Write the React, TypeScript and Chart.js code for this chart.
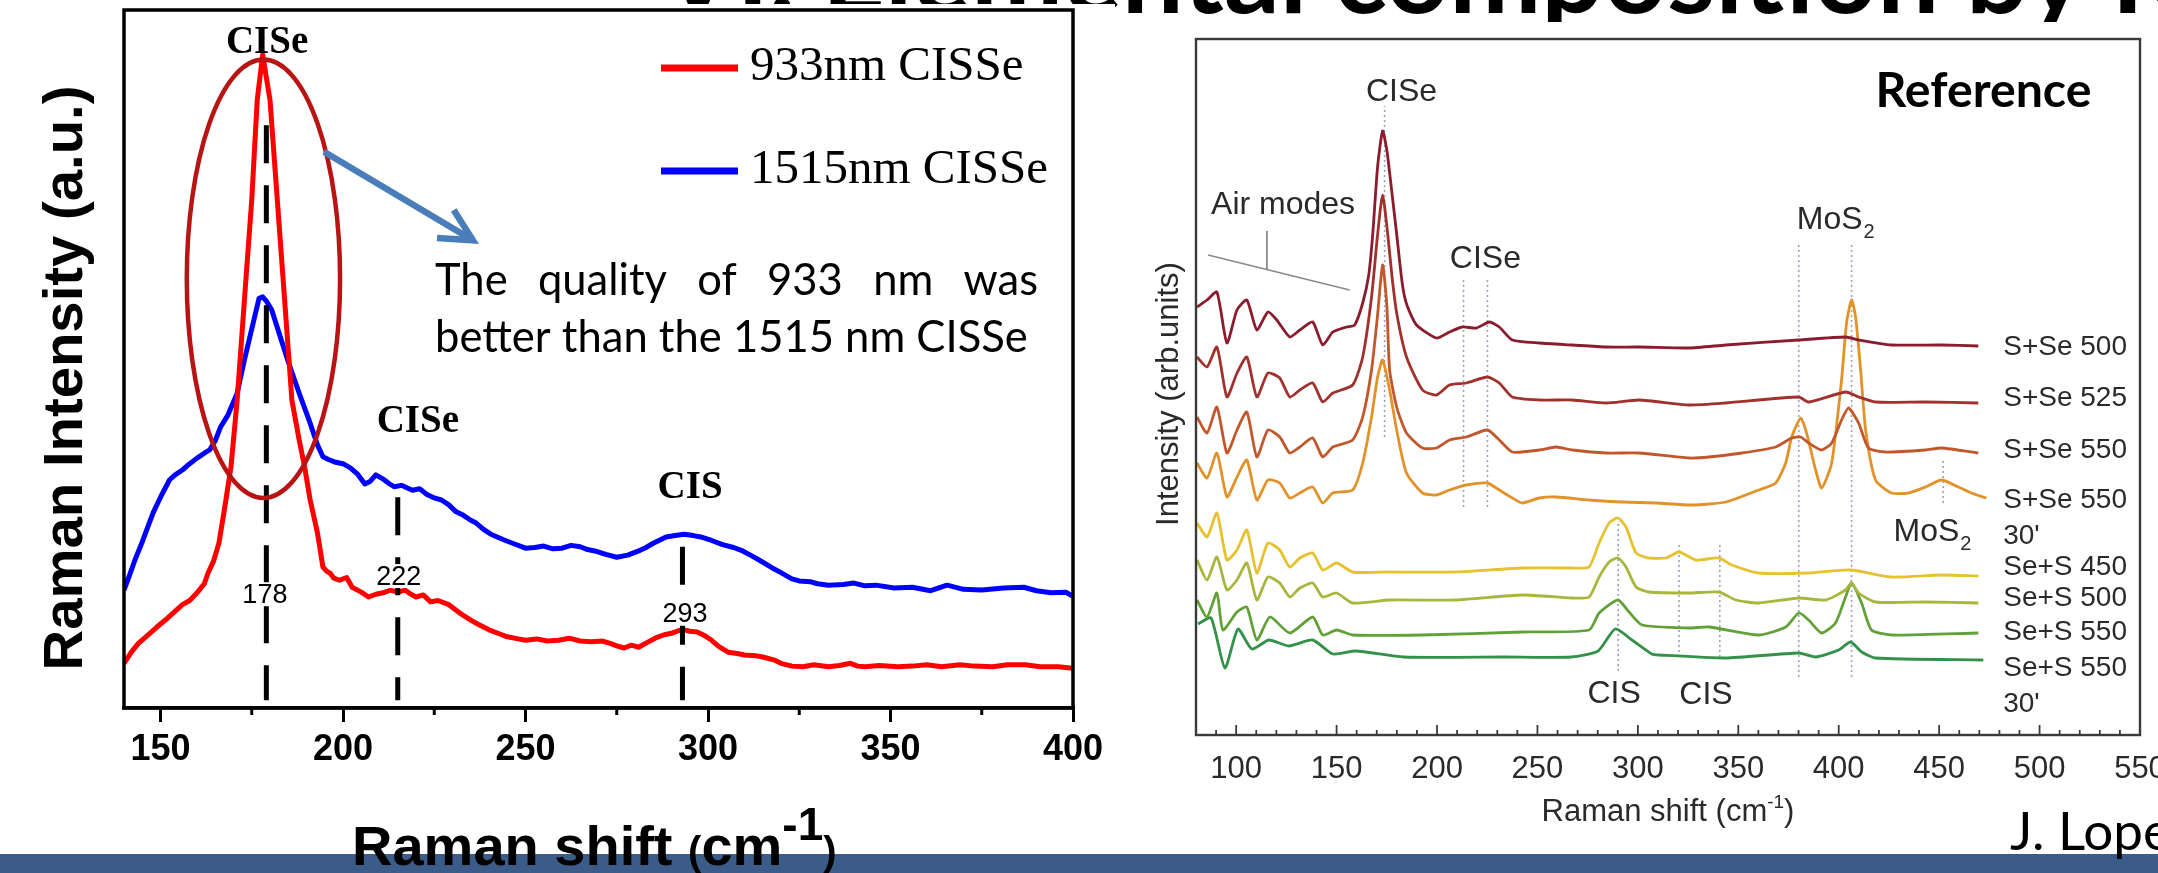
import React, { useEffect, useRef } from 'react';
import { Chart, registerables } from 'chart.js';

Chart.register(...registerables);

const ARIAL = "'Liberation Sans', Arial, sans-serif";
const TIMES = "'Liberation Serif', 'Times New Roman', serif";
const CALIBRI = "Lato, 'Open Sans', sans-serif";

const slideTitle = 'VI. Elemental composition by Raman';
const citation = 'J. Lopez-Garcia et al.';

// ---------------- Left chart (measured samples) ----------------
const leftXTicks = [150, 200, 250, 300, 350, 400];
const leftMinorTicks = [175, 225, 275, 325, 375];
const leftSeriesNames = ['933nm CISSe', '1515nm CISSe'];
const leftSeriesColors = ['#ff0000', '#0000ff'];

const red933: [number, number][] = [
  [140, 6.4], [142, 8.0], [144, 9.3], [146, 10.2], [149, 11.6], [152, 12.9], [156, 14.8], [158, 15.4],
  [160, 16.5], [162, 17.8], [163, 19.3], [164.5, 21.0], [166, 23.6], [167.5, 28.4], [169.3, 34.5],
  [171, 44.1], [173, 58.5], [175, 72.8], [176.5, 87.1], [178, 93.6], [180, 87.1], [182, 72.8],
  [184, 58.5], [186, 44.1], [188, 38.4], [189.5, 34.5], [191, 29.8], [193, 25.1], [194.5, 20.2],
  [195.5, 19.6], [196.5, 19.3], [197.5, 18.6], [199, 18.3], [201, 18.7], [202.5, 17.3], [205, 16.6],
  [207, 15.9], [209, 16.3], [211, 16.5], [213, 16.9], [215, 16.6], [217, 16.9], [218, 16.5], [220, 15.9],
  [222, 16.2], [224, 15.2], [226, 15.4], [229, 14.8], [232, 13.6], [235, 12.6], [237, 12.0], [240, 11.2],
  [243, 10.6], [245, 10.2], [248, 9.9], [250, 9.7], [253, 9.9], [256, 9.6], [259, 9.7], [262, 10.0],
  [265, 9.6], [268, 9.5], [271, 9.6], [273, 9.3], [275, 8.9], [277, 8.6], [279, 9.0], [281, 8.7],
  [283, 9.3], [285.5, 10.0], [288, 10.5], [290, 10.7], [292, 11.1], [293.5, 11.2], [295, 11.0],
  [297, 10.9], [299, 10.4], [301, 9.7], [303, 8.8], [305.5, 8.0], [308, 7.8], [310, 7.6], [313, 7.5],
  [315, 7.3], [318, 6.9], [320, 6.4], [323, 6.0], [326, 5.9], [329, 6.2], [333, 5.9], [336, 6.1],
  [339, 6.4], [341, 6.0], [343, 5.9], [347, 6.1], [352, 5.9], [356, 6.0], [360, 6.2], [364, 5.9],
  [369, 6.2], [373, 6.0], [378, 5.9], [382, 6.2], [387, 6.2], [391, 5.9], [396, 5.9], [400, 5.7],
];

const blue1515: [number, number][] = [
  [140, 16.9], [141.5, 19.0], [143, 21.2], [145, 23.8], [146.5, 25.9], [148, 28.0], [150, 30.2],
  [152.5, 32.7], [154, 33.4], [156, 34.1], [158, 35.0], [160, 35.8], [162, 36.5], [163.5, 37.0],
  [165, 38.3], [166.5, 40.3], [168.5, 42.0], [171, 45.1], [173, 49.9], [175, 54.3], [177, 58.7],
  [178, 58.9], [179, 58.3], [180.5, 57.0], [182.5, 53.7], [185, 49.6], [188, 45.1], [191, 40.8],
  [193, 37.7], [194.5, 36.0], [196, 35.6], [198, 35.2], [200, 35.0], [202, 34.4], [204, 33.5],
  [206, 32.1], [207.5, 32.5], [209, 33.4], [211, 32.8], [212.5, 32.2], [214, 31.7], [216, 31.9],
  [219, 31.2], [221, 31.4], [223, 30.6], [225, 30.1], [227, 29.8], [229, 29.1], [231, 28.1],
  [233, 27.6], [235, 26.9], [236.5, 26.5], [238.5, 25.6], [240.5, 24.9], [244, 24.1], [247, 23.5],
  [250, 22.9], [252.5, 23.0], [255, 23.2], [257.5, 22.8], [260, 22.9], [262.5, 23.3], [265, 23.1],
  [267, 22.7], [269, 22.5], [272, 22.0], [275, 21.6], [278, 21.9], [281, 22.5], [283, 23.0],
  [285, 23.6], [288.5, 24.5], [291, 24.7], [293.5, 24.9], [296, 24.7], [298, 24.5], [301, 24.0],
  [304, 23.4], [307, 23.0], [309.5, 22.5], [312, 21.8], [314, 21.2], [317.5, 20.1], [320, 19.4],
  [323, 18.5], [325, 18.2], [328, 18.1], [330, 17.8], [333, 17.6], [337, 17.7], [340, 17.9],
  [343, 17.5], [346, 17.6], [351, 17.2], [356, 17.3], [361, 16.8], [365.5, 17.6], [370, 17.0],
  [375, 16.9], [381, 17.2], [386.5, 17.3], [390, 16.8], [394, 16.5], [398, 16.6], [400, 16.0],
];

const peakLineX = [179, 215, 293];
const peakLineTop = [83.5, 30.2, 23.1];
const peakLabelText = ['178', '222', '293'];
const peakLabelX = [178.6, 215.3, 293.7];
const peakLabelY = [16.3, 18.9, 13.5];
const phaseText = ['CISe', 'CISe', 'CIS'];
const phaseX = [179.2, 220.5, 295.1];
const phaseY = [93.8, 39.5, 30.1];
const noteLines = ['The quality of 933 nm was', 'better than the 1515 nm CISSe'];

// ---------------- Right chart (reference figure) ----------------
const rightXTicks = [100, 150, 200, 250, 300, 350, 400, 450, 500, 550];
const rightSeriesNames = ['S+Se 500', 'S+Se 525', 'S+Se 550', "S+Se 550\n30'", 'Se+S 450', 'Se+S 500', 'Se+S 550', "Se+S 550\n30'"];
const rightSeriesColors = ['#8a1c2d', '#a1312c', '#c2572c', '#e2922a', '#e6c22e', '#a8b63c', '#62a038', '#33914a'];
const rightLabelY = [388, 337, 285, 235, 168, 137, 103, 67];

const sSe500: [number, number][] = [
  [80.5, 428], [85.5, 435], [90.4, 443], [95.4, 392], [100.4, 425], [105.3, 435], [110.3, 405], [115.8, 423],
  [120.2, 415], [126.7, 398], [131.7, 405], [138.1, 413], [143.1, 390], [148.1, 403], [155.0, 408], [159.0, 410],
  [163.0, 432], [166.0, 460], [168.0, 501], [170.4, 568], [172.9, 604], [175.0, 585], [177.1, 550], [179.9, 501],
  [182.8, 450], [185.0, 430], [189.8, 410], [199.7, 397], [206.2, 403], [212.6, 408], [219.6, 407], [226.1, 413],
  [231.0, 408], [237.5, 395], [250.9, 392], [267.3, 390], [284.2, 388], [300.6, 388], [325.4, 387], [343.8, 390],
  [380.1, 395], [403.4, 398], [409.9, 395], [426.3, 390], [451.1, 390], [469.5, 389],
];
const sSe525: [number, number][] = [
  [80.5, 378], [85.5, 368], [90.4, 388], [95.4, 338], [100.4, 362], [105.3, 378], [110.3, 338], [115.8, 362],
  [121.7, 357], [126.7, 338], [131.7, 345], [138.1, 352], [143.1, 333], [148.1, 342], [158.0, 350], [163.0, 378],
  [167.4, 438], [170.4, 500], [172.9, 540], [175.5, 500], [177.5, 460], [179.9, 422], [184.8, 378], [192.8, 345],
  [199.7, 340], [206.2, 350], [214.6, 352], [225.1, 358], [231.0, 352], [237.5, 338], [250.9, 335], [267.3, 335],
  [284.2, 332], [300.6, 335], [325.4, 330], [343.8, 332], [380.1, 338], [385.0, 333], [403.4, 343], [409.9, 338],
  [418.3, 333], [443.2, 333], [469.5, 332],
];
const sSe550: [number, number][] = [
  [80.5, 318], [85.5, 302], [90.4, 328], [95.4, 282], [100.4, 305], [105.3, 323], [110.3, 278], [115.8, 305],
  [121.7, 298], [126.7, 282], [131.7, 288], [138.1, 297], [143.1, 278], [148.1, 288], [158.0, 295], [163.0, 318],
  [167.4, 365], [170.4, 420], [172.9, 470], [175.0, 430], [176.4, 365], [179.9, 328], [184.8, 302], [192.8, 287],
  [199.7, 287], [206.2, 295], [214.6, 298], [225.1, 305], [231.0, 295], [237.5, 283], [250.9, 285], [259.3, 288],
  [267.3, 285], [284.2, 282], [300.6, 282], [325.4, 277], [335.4, 278], [351.8, 282], [368.6, 288], [376.6, 297],
  [381.1, 298], [385.0, 292], [391.5, 285], [396.5, 292], [401.4, 315], [404.9, 327], [409.9, 312], [414.8, 287],
  [423.3, 283], [443.2, 285], [451.1, 287], [469.5, 282],
];
const sSe550b: [number, number][] = [
  [80.5, 272], [85.5, 257], [90.4, 282], [95.4, 238], [100.4, 258], [105.3, 275], [110.3, 235], [115.8, 255],
  [121.7, 252], [126.7, 237], [131.7, 242], [138.1, 248], [143.1, 232], [148.1, 242], [158.0, 245], [163.0, 272],
  [167.4, 318], [170.4, 358], [172.9, 375], [176.4, 345], [179.9, 305], [184.8, 262], [192.8, 242], [199.7, 240],
  [206.2, 245], [214.6, 250], [225.1, 252], [231.0, 245], [237.5, 237], [242.5, 232], [250.9, 237], [259.3, 238],
  [275.7, 235], [292.1, 233], [309.0, 232], [326.9, 230], [343.8, 233], [360.2, 245], [368.6, 252], [373.6, 272],
  [376.6, 298], [381.1, 317], [384.0, 302], [388.5, 265], [391.5, 247], [396.5, 272], [401.4, 355], [403.9, 412],
  [406.4, 435], [408.4, 418], [410.9, 365], [413.4, 305], [418.3, 255], [426.3, 242], [434.7, 242], [443.2, 248],
  [451.1, 255], [459.5, 248], [466.0, 242], [473.5, 237],
];
const sS450: [number, number][] = [
  [80.5, 212], [85.5, 198], [90.4, 222], [95.4, 175], [100.4, 185], [105.3, 205], [110.3, 162], [115.8, 192],
  [121.7, 185], [126.7, 168], [131.7, 177], [138.1, 182], [143.1, 165], [150.0, 172], [158.0, 163], [176.4, 163],
  [209.7, 163], [242.5, 167], [267.3, 167], [275.7, 168], [280.7, 192], [285.7, 212], [290.1, 217], [294.1, 208],
  [299.1, 182], [305.5, 177], [314.0, 177], [320.5, 183], [328.9, 175], [340.3, 177], [346.8, 170], [360.2, 162],
  [385.0, 162], [405.9, 165], [426.3, 158], [451.1, 160], [469.5, 159],
];
const sS500: [number, number][] = [
  [80.5, 175], [85.5, 155], [90.4, 178], [95.4, 145], [100.4, 155], [105.3, 172], [110.3, 135], [115.8, 158],
  [121.7, 152], [126.7, 138], [131.7, 147], [138.1, 152], [143.1, 138], [150.0, 142], [158.0, 132], [176.4, 135],
  [209.7, 135], [242.5, 140], [267.3, 137], [275.7, 138], [280.7, 158], [285.7, 173], [290.1, 177], [294.1, 168],
  [299.1, 148], [305.5, 143], [325.4, 142], [340.3, 143], [348.8, 135], [360.2, 132], [380.1, 137], [393.5, 135],
  [403.4, 145], [406.4, 152], [409.9, 142], [418.3, 133], [443.2, 133], [469.5, 132],
];
const sS550: [number, number][] = [
  [80.5, 135], [85.5, 118], [90.4, 142], [93.4, 105], [100.4, 123], [105.3, 128], [110.3, 95], [116.8, 118],
  [126.7, 102], [138.1, 118], [143.1, 100], [150.0, 105], [158.0, 100], [192.8, 100], [242.5, 103], [275.7, 105],
  [280.7, 122], [290.1, 135], [295.6, 123], [302.1, 110], [325.4, 107], [335.4, 108], [360.2, 100], [373.6, 108],
  [380.1, 122], [385.0, 115], [391.5, 102], [398.4, 112], [403.4, 138], [406.4, 152], [411.4, 132], [416.3, 105],
  [426.3, 100], [469.5, 102],
];
const sS550b: [number, number][] = [
  [81.0, 111], [87.5, 117], [94.4, 67], [100.9, 106], [107.8, 86], [116.3, 95], [126.2, 89], [138.1, 95],
  [148.1, 81], [159.5, 84], [183.3, 78], [233.5, 78], [266.8, 78], [280.2, 84], [288.7, 106], [297.1, 95],
  [307.0, 81], [310.5, 80], [343.8, 77], [380.1, 82], [388.5, 78], [399.9, 85], [405.9, 93], [411.4, 83],
  [418.3, 77], [472.0, 75],
];
const rightSeries = [sSe500, sSe525, sSe550, sSe550b, sS450, sS500, sS550, sS550b];

const refLineX = [173.9, 213.2, 225.1, 380.1, 406.4, 452, 290.2, 320.5, 340.8];
const refLineFrom = [298, 228, 228, 58, 58, 232, 64, 78, 78];
const refLineTo = [629, 458, 458, 492, 492, 275, 212, 190, 190];
const noteText = ['CISe', 'Air modes', 'CISe', 'MoS_2', 'MoS_2', 'CIS', 'CIS'];
const noteX = [182.3, 87.5, 224.1, 379.1, 427.3, 288.2, 333.9];
const noteY = [643, 530, 476, 515, 203, 41, 40];
const noteAlign = ['center', 'left', 'center', 'left', 'left', 'center', 'center'];
const airLineX = [86.0, 156.5];
const airLineY = [480, 445];
const airTick = [115.3, 504, 465];

function fitFont(ctx: any, text: string, weight: string, family: string, target: number) {
  ctx.font = `${weight} 100px ${family}`;
  const w = ctx.measureText(text).width;
  const size = (100 * target) / w;
  ctx.font = `${weight} ${size}px ${family}`;
  return size;
}

const leftDecor = {
  id: 'leftDecor',
  beforeDraw(chart: any) {
    const ctx = chart.ctx;
    ctx.save();
    ctx.fillStyle = '#ffffff';
    ctx.fillRect(0, 4, 1115, 849);
    ctx.restore();
  },
  afterDatasetsDraw(chart: any) {
    const ctx = chart.ctx;
    const x = chart.scales.x;
    const y = chart.scales.y;
    ctx.save();
    ctx.strokeStyle = '#000';
    ctx.lineWidth = 5;
    ctx.setLineDash([38, 22]);
    peakLineX.forEach((v, i) => {
      const px = x.getPixelForValue(v);
      ctx.beginPath();
      ctx.moveTo(px, y.getPixelForValue(peakLineTop[i]));
      ctx.lineTo(px, y.getPixelForValue(1.1));
      ctx.stroke();
    });
    ctx.setLineDash([]);
    ctx.font = `27px ${ARIAL}`;
    ctx.textAlign = 'center';
    ctx.textBaseline = 'middle';
    peakLabelText.forEach((t, i) => {
      const px = x.getPixelForValue(peakLabelX[i]);
      const py = y.getPixelForValue(peakLabelY[i]);
      const w = ctx.measureText(t).width;
      ctx.fillStyle = '#fff';
      ctx.fillRect(px - w / 2 - 2, py - 12, w + 4, 24);
      ctx.fillStyle = '#000';
      ctx.fillText(t, px, py + 1);
    });
    ctx.font = `bold 39px ${TIMES}`;
    ctx.textBaseline = 'alphabetic';
    phaseText.forEach((t, i) => {
      ctx.fillText(t, x.getPixelForValue(phaseX[i]), y.getPixelForValue(phaseY[i]));
    });
    const cx = x.getPixelForValue(178.2);
    const cy = y.getPixelForValue(61.5);
    const rx = x.getPixelForValue(178.2 + 21) - cx;
    const ry = cy - y.getPixelForValue(61.5 + 31.4);
    ctx.strokeStyle = '#b81414';
    ctx.lineWidth = 4.5;
    ctx.beginPath();
    ctx.ellipse(cx, cy, rx, ry, 0, 0, Math.PI * 2);
    ctx.stroke();
    const ax0 = x.getPixelForValue(194.8), ay0 = y.getPixelForValue(79.7);
    const ax1 = x.getPixelForValue(235.6), ay1 = y.getPixelForValue(67.0);
    const ang = Math.atan2(ay1 - ay0, ax1 - ax0);
    ctx.strokeStyle = '#4a7ebb';
    ctx.lineWidth = 6.5;
    ctx.lineCap = 'butt';
    ctx.beginPath();
    ctx.moveTo(ax0, ay0);
    ctx.lineTo(ax1 - 3 * Math.cos(ang), ay1 - 3 * Math.sin(ang));
    ctx.stroke();
    ctx.lineJoin = 'miter';
    ctx.beginPath();
    const al = 36, spread = 0.47;
    ctx.moveTo(ax1 + al * Math.cos(ang + Math.PI - spread), ay1 + al * Math.sin(ang + Math.PI - spread));
    ctx.lineTo(ax1, ay1);
    ctx.lineTo(ax1 + al * Math.cos(ang + Math.PI + spread), ay1 + al * Math.sin(ang + Math.PI + spread));
    ctx.stroke();
    ctx.fillStyle = '#000';
    fitFont(ctx, noteLines[1], 'normal', CALIBRI, 593);
    ctx.textAlign = 'left';
    ctx.fillText(noteLines[1], 435, 352);
    const words = noteLines[0].split(' ');
    const wsum = words.reduce((s, w) => s + ctx.measureText(w).width, 0);
    const gap = (1038 - 435 - wsum) / (words.length - 1);
    let wx = 435;
    words.forEach((w) => {
      ctx.fillText(w, wx, 295);
      wx += ctx.measureText(w).width + gap;
    });
    ctx.restore();
  },
  afterDraw(chart: any) {
    const ctx = chart.ctx;
    const a = chart.chartArea;
    const x = chart.scales.x;
    ctx.save();
    ctx.strokeStyle = '#000';
    ctx.lineWidth = 3.5;
    ctx.strokeRect(a.left, a.top, a.right - a.left, a.bottom - a.top);
    ctx.lineWidth = 3;
    leftMinorTicks.forEach((v) => {
      const px = x.getPixelForValue(v);
      ctx.beginPath();
      ctx.moveTo(px, a.bottom);
      ctx.lineTo(px, a.bottom + 7);
      ctx.stroke();
    });
    chart.data.datasets.forEach((ds: any, i: number) => {
      const ly = [68, 171][i];
      ctx.strokeStyle = ds.borderColor;
      ctx.lineWidth = 7;
      ctx.beginPath();
      ctx.moveTo(661, ly);
      ctx.lineTo(738, ly);
      ctx.stroke();
      ctx.fillStyle = '#000';
      ctx.font = `49px ${TIMES}`;
      ctx.textAlign = 'left';
      ctx.textBaseline = 'alphabetic';
      ctx.fillText(ds.label, 750, ly + 12);
    });
    ctx.save();
    ctx.translate(66, 378);
    ctx.rotate(-Math.PI / 2);
    fitFont(ctx, 'Raman Intensity (a.u.)', 'bold', ARIAL, 585);
    ctx.textAlign = 'center';
    ctx.textBaseline = 'middle';
    ctx.fillStyle = '#000';
    ctx.fillText('Raman Intensity (a.u.)', 0, 0);
    ctx.restore();
    const parts = [
      { t: 'Raman shift ', s: 56, dy: 0 },
      { t: '(', s: 40, dy: 0 },
      { t: 'cm', s: 56, dy: 0 },
      { t: '-1', s: 46, dy: -25 },
      { t: ')', s: 40, dy: 0 },
    ];
    let cx = 352;
    ctx.fillStyle = '#000';
    ctx.textAlign = 'left';
    ctx.textBaseline = 'alphabetic';
    parts.forEach((p) => {
      ctx.font = `bold ${p.s}px ${ARIAL}`;
      ctx.fillText(p.t, cx, 865 + p.dy);
      cx += ctx.measureText(p.t).width;
    });
    ctx.restore();
  },
};

const rightDecor = {
  id: 'rightDecor',
  beforeDraw(chart: any) {
    const ctx = chart.ctx;
    ctx.save();
    ctx.fillStyle = '#ffffff';
    ctx.fillRect(40, 22, 1018, 831);
    ctx.restore();
  },
  beforeDatasetsDraw(chart: any) {
    const ctx = chart.ctx;
    const x = chart.scales.x;
    const y = chart.scales.y;
    ctx.save();
    ctx.strokeStyle = '#9aa3b8';
    ctx.lineWidth = 1.6;
    ctx.setLineDash([2, 3]);
    refLineX.forEach((v, i) => {
      const px = x.getPixelForValue(v);
      ctx.beginPath();
      ctx.moveTo(px, y.getPixelForValue(refLineFrom[i]));
      ctx.lineTo(px, y.getPixelForValue(refLineTo[i]));
      ctx.stroke();
    });
    ctx.setLineDash([]);
    ctx.strokeStyle = '#8a8a8a';
    ctx.lineWidth = 1.8;
    ctx.beginPath();
    ctx.moveTo(x.getPixelForValue(airLineX[0]), y.getPixelForValue(airLineY[0]));
    ctx.lineTo(x.getPixelForValue(airLineX[1]), y.getPixelForValue(airLineY[1]));
    ctx.moveTo(x.getPixelForValue(airTick[0]), y.getPixelForValue(airTick[1]));
    ctx.lineTo(x.getPixelForValue(airTick[0]), y.getPixelForValue(airTick[2]));
    ctx.stroke();
    ctx.restore();
  },
  afterDraw(chart: any) {
    const ctx = chart.ctx;
    const a = chart.chartArea;
    const x = chart.scales.x;
    const y = chart.scales.y;
    ctx.save();
    ctx.strokeStyle = '#3a3a3a';
    ctx.lineWidth = 2.4;
    ctx.strokeRect(a.left, a.top, a.right - a.left, a.bottom - a.top);
    ctx.lineWidth = 1.8;
    for (let v = 90; v <= 550; v += 10) {
      const px = x.getPixelForValue(v);
      const len = v % 50 === 0 ? 10 : 5;
      ctx.beginPath();
      ctx.moveTo(px, a.bottom);
      ctx.lineTo(px, a.bottom - len);
      ctx.stroke();
    }
    ctx.fillStyle = '#2a2a2a';
    ctx.textBaseline = 'middle';
    noteText.forEach((t, i) => {
      const [main, sub] = t.split('_');
      ctx.font = `32px ${ARIAL}`;
      const w = ctx.measureText(main).width;
      let px = x.getPixelForValue(noteX[i]);
      const py = y.getPixelForValue(noteY[i]);
      if (noteAlign[i] === 'center') px -= w / 2;
      ctx.textAlign = 'left';
      ctx.fillText(main, px, py);
      if (sub) {
        ctx.font = `20px ${ARIAL}`;
        ctx.fillText(sub, px + w + 1, py + 12);
      }
    });
    ctx.font = `28px ${ARIAL}`;
    ctx.textAlign = 'left';
    chart.data.datasets.forEach((ds: any, i: number) => {
      const lines = String(ds.label).split('\n');
      const px = x.getPixelForValue(481.9);
      lines.forEach((ln, j) => {
        ctx.fillText(ln, px, y.getPixelForValue(rightLabelY[i]) + j * 36);
      });
    });
    ctx.fillStyle = '#000';
    fitFont(ctx, 'Reference', 'bold', CALIBRI, 216);
    ctx.textBaseline = 'alphabetic';
    ctx.fillText('Reference', x.getPixelForValue(418.3), y.getPixelForValue(628));
    ctx.fillStyle = '#2a2a2a';
    ctx.save();
    ctx.translate(69, 394);
    ctx.rotate(-Math.PI / 2);
    fitFont(ctx, 'Intensity (arb.units)', 'normal', ARIAL, 264);
    ctx.textAlign = 'center';
    ctx.textBaseline = 'middle';
    ctx.fillText('Intensity (arb.units)', 0, 0);
    ctx.restore();
    const parts = [
      { t: 'Raman shift (cm', s: 31, dy: 0 },
      { t: '-1', s: 19, dy: -13 },
      { t: ')', s: 31, dy: 0 },
    ];
    let total = 0;
    parts.forEach((p) => {
      ctx.font = `${p.s}px ${ARIAL}`;
      total += ctx.measureText(p.t).width;
    });
    let cx = (a.left + a.right) / 2 - total / 2;
    ctx.textAlign = 'left';
    ctx.textBaseline = 'alphabetic';
    parts.forEach((p) => {
      ctx.font = `${p.s}px ${ARIAL}`;
      ctx.fillText(p.t, cx, 821 + p.dy);
      cx += ctx.measureText(p.t).width;
    });
    ctx.restore();
  },
};

function leftConfig(): any {
  return {
    type: 'line',
    data: {
      datasets: [red933, blue1515].map((d, i) => ({
        label: leftSeriesNames[i],
        data: d.map(([x, y]) => ({ x, y })),
        borderColor: leftSeriesColors[i],
        borderWidth: 5,
        pointRadius: 0,
        tension: 0,
        borderJoinStyle: 'round',
        fill: false,
      })),
    },
    options: {
      responsive: false,
      animation: false,
      layout: { padding: { left: 124, right: 77, top: 10, bottom: 0 } },
      plugins: { legend: { display: false }, tooltip: { enabled: false } },
      scales: {
        x: {
          type: 'linear',
          min: 140,
          max: 400,
          afterBuildTicks: (s: any) => { s.ticks = leftXTicks.map((v) => ({ value: v })); },
          afterFit: (s: any) => { s.height = 165; s.paddingLeft = 0; s.paddingRight = 0; },
          grid: { display: true, drawOnChartArea: false, drawTicks: true, tickLength: 14, lineWidth: 3, color: '#000' },
          border: { display: true, color: '#000', width: 3.5 },
          ticks: { color: '#000', font: { family: ARIAL, size: 36, weight: 'bold' }, padding: 6, maxRotation: 0, autoSkip: false },
        },
        y: { display: false, min: 0, max: 100 },
      },
    },
    plugins: [leftDecor],
  };
}

function rightConfig(): any {
  return {
    type: 'line',
    data: {
      datasets: rightSeries.map((d, i) => ({
        label: rightSeriesNames[i],
        data: d.map(([x, y]) => ({ x, y })),
        borderColor: rightSeriesColors[i],
        borderWidth: 2.8,
        pointRadius: 0,
        tension: 0.2,
        fill: false,
      })),
    },
    options: {
      responsive: false,
      animation: false,
      layout: { padding: { left: 96, right: 18, top: 39, bottom: 0 } },
      plugins: { legend: { display: false }, tooltip: { enabled: false } },
      scales: {
        x: {
          type: 'linear',
          min: 80,
          max: 550,
          afterBuildTicks: (s: any) => { s.ticks = rightXTicks.map((v) => ({ value: v })); },
          afterFit: (s: any) => { s.height = 138; s.paddingLeft = 0; s.paddingRight = 0; },
          grid: { display: false },
          border: { display: false },
          ticks: { color: '#2a2a2a', font: { family: ARIAL, size: 31 }, padding: 8, maxRotation: 0, autoSkip: false },
        },
        y: { display: false, min: 0, max: 696 },
      },
    },
    plugins: [rightDecor],
  };
}

export default function App() {
  const titleRef = useRef<HTMLCanvasElement>(null);
  const leftRef = useRef<HTMLCanvasElement>(null);
  const rightRef = useRef<HTMLCanvasElement>(null);
  useEffect(() => {
    const tc = titleRef.current as HTMLCanvasElement;
    const tctx = tc.getContext('2d');
    if (tctx) {
      tctx.clearRect(0, 0, tc.width, tc.height);
      tctx.fillStyle = '#000';
      tctx.font = `bold 110px ${CALIBRI}`;
      tctx.textBaseline = 'alphabetic';
      tctx.textAlign = 'left';
      tctx.fillText(slideTitle, 660, 13);
    }
    const l = new Chart(leftRef.current as HTMLCanvasElement, leftConfig());
    const r = new Chart(rightRef.current as HTMLCanvasElement, rightConfig());
    return () => {
      l.destroy();
      r.destroy();
    };
  }, []);
  return (
    <div style={{ position: 'absolute', left: 0, top: 0, width: 2158, height: 873, overflow: 'hidden', background: '#fff' }}>
      <div style={{ position: 'absolute', left: 0, top: 854, width: 2158, height: 19, background: '#3b5b88' }} />
      <canvas ref={titleRef} width={2158} height={60} style={{ position: 'absolute', left: 0, top: 0 }} />
      <canvas ref={leftRef} width={1150} height={873} style={{ position: 'absolute', left: 0, top: 0 }} />
      <canvas ref={rightRef} width={1058} height={873} style={{ position: 'absolute', left: 1100, top: 0 }} />
      <div
        style={{
          position: 'absolute', left: 2010, top: 803, fontFamily: CALIBRI, fontSize: 53, lineHeight: 1,
          whiteSpace: 'nowrap', color: '#000',
        }}
      >
        {citation}
      </div>
    </div>
  );
}
